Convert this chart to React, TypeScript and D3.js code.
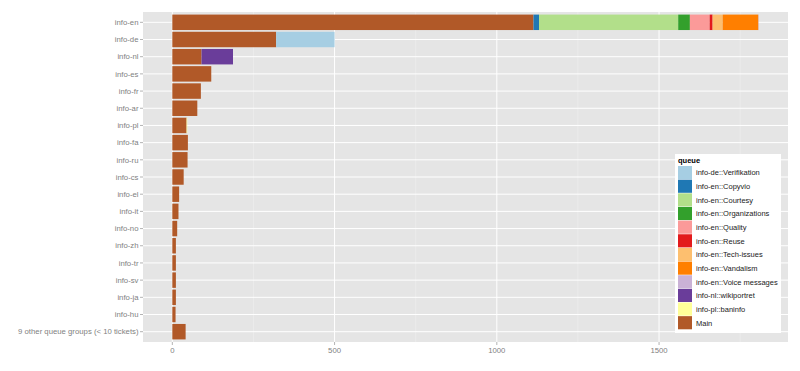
import { useEffect, useRef } from "react"
import * as d3 from "d3"

const categories = [
  "info-en", "info-de", "info-nl", "info-es", "info-fr", "info-ar", "info-pl", "info-fa",
  "info-ru", "info-cs", "info-el", "info-it", "info-no", "info-zh", "info-tr", "info-sv",
  "info-ja", "info-hu", "9 other queue groups (< 10 tickets)",
]

const queues = [
  "Main",
  "info-de::Verifikation",
  "info-en::Copyvio",
  "info-en::Courtesy",
  "info-en::Organizations",
  "info-en::Quality",
  "info-en::Reuse",
  "info-en::Tech-issues",
  "info-en::Vandalism",
  "info-en::Voice messages",
  "info-nl::wikiportret",
  "info-pl::baninfo",
]

const legendOrder = [
  "info-de::Verifikation",
  "info-en::Copyvio",
  "info-en::Courtesy",
  "info-en::Organizations",
  "info-en::Quality",
  "info-en::Reuse",
  "info-en::Tech-issues",
  "info-en::Vandalism",
  "info-en::Voice messages",
  "info-nl::wikiportret",
  "info-pl::baninfo",
  "Main",
]

const queueColors = [
  "#B15928", "#A6CEE3", "#1F78B4", "#B2DF8A", "#33A02C", "#FB9A99",
  "#E31A1C", "#FDBF6F", "#FF7F00", "#CAB2D6", "#6A3D9A", "#FFFF99",
]

// tickets per category, one array per queue (same order as categories)
const mainValues = [1113, 320, 90, 120, 88, 77, 44, 48, 47, 35, 21, 19, 15, 11, 11, 11, 11, 10, 41]
const verifikationValues = [0, 180, 0, 0, 0, 0, 0, 0, 0, 0, 0, 0, 0, 0, 0, 0, 0, 0, 0]
const copyvioValues = [17, 0, 0, 0, 0, 0, 0, 0, 0, 0, 0, 0, 0, 0, 0, 0, 0, 0, 0]
const courtesyValues = [429, 0, 0, 0, 0, 0, 0, 0, 0, 0, 0, 0, 0, 0, 0, 0, 0, 0, 0]
const organizationsValues = [36, 0, 0, 0, 0, 0, 0, 0, 0, 0, 0, 0, 0, 0, 0, 0, 0, 0, 0]
const qualityValues = [61, 0, 0, 0, 0, 0, 0, 0, 0, 0, 0, 0, 0, 0, 0, 0, 0, 0, 0]
const reuseValues = [9, 0, 0, 0, 0, 0, 0, 0, 0, 0, 0, 0, 0, 0, 0, 0, 0, 0, 0]
const techIssuesValues = [31, 0, 0, 0, 0, 0, 0, 0, 0, 0, 0, 0, 0, 0, 0, 0, 0, 0, 0]
const vandalismValues = [110, 0, 0, 0, 0, 0, 0, 0, 0, 0, 0, 0, 0, 0, 0, 0, 0, 0, 0]
const voiceValues = [1, 0, 0, 0, 0, 0, 0, 0, 0, 0, 0, 0, 0, 0, 0, 0, 0, 0, 0]
const wikiportretValues = [0, 0, 97, 0, 0, 0, 0, 0, 0, 0, 0, 0, 0, 0, 0, 0, 0, 0, 0]
const baninfoValues = [0, 0, 0, 0, 0, 0, 2, 0, 0, 0, 0, 0, 0, 0, 0, 0, 0, 0, 0]

const seriesValues = [
  mainValues, verifikationValues, copyvioValues, courtesyValues, organizationsValues,
  qualityValues, reuseValues, techIssuesValues, vandalismValues, voiceValues,
  wikiportretValues, baninfoValues,
]

const xTicks = [0, 500, 1000, 1500]
const xMinorTicks = [250, 750, 1250, 1750]

export default function App() {
  const svgRef = useRef<SVGSVGElement | null>(null)

  useEffect(() => {
    if (!svgRef.current) return
    const svg = d3.select(svgRef.current)
    svg.selectAll("*").remove()

    const width = 800
    const height = 371
    const panel = { left: 143, right: 788, top: 12, bottom: 342 }
    const font = "Liberation Sans, Arial, sans-serif"
    const grey = "#7f7f7f"

    const rows = categories.map((c, i) => {
      const row: Record<string, number | string> = { category: c }
      queues.forEach((q, j) => (row[q] = seriesValues[j][i]))
      return row
    })

    const stacked = d3.stack<Record<string, number | string>>().keys(queues)(rows as any)
    const maxTotal = d3.max(categories, (_, i) => d3.sum(seriesValues, (s) => s[i])) ?? 0
    const pad = maxTotal * 0.05

    const x = d3.scaleLinear().domain([-pad, maxTotal + pad]).range([panel.left, panel.right])
    const y = d3.scalePoint<string>().domain(categories).range([panel.top, panel.bottom]).padding(0.6)
    const barH = y.step() * 0.9
    const color = d3.scaleOrdinal<string, string>().domain(queues).range(queueColors)

    svg.attr("width", width).attr("height", height)

    svg.append("rect")
      .attr("x", panel.left).attr("y", panel.top)
      .attr("width", panel.right - panel.left).attr("height", panel.bottom - panel.top)
      .attr("fill", "#E5E5E5")

    svg.append("g").selectAll("line").data(xMinorTicks).join("line")
      .attr("x1", (d) => x(d)).attr("x2", (d) => x(d))
      .attr("y1", panel.top).attr("y2", panel.bottom)
      .attr("stroke", "#F2F2F2").attr("stroke-width", 0.5)

    svg.append("g").selectAll("line").data(xTicks).join("line")
      .attr("x1", (d) => x(d)).attr("x2", (d) => x(d))
      .attr("y1", panel.top).attr("y2", panel.bottom)
      .attr("stroke", "#ffffff").attr("stroke-width", 1)

    svg.append("g").selectAll("line").data(categories).join("line")
      .attr("x1", panel.left).attr("x2", panel.right)
      .attr("y1", (d) => y(d)!).attr("y2", (d) => y(d)!)
      .attr("stroke", "#ffffff").attr("stroke-width", 1)

    svg.append("g").selectAll("g").data(stacked).join("g")
      .attr("fill", (d) => color(d.key))
      .selectAll("rect")
      .data((d) => d.filter((s) => s[1] - s[0] > 0))
      .join("rect")
      .attr("x", (d) => x(d[0]))
      .attr("width", (d) => x(d[1]) - x(d[0]))
      .attr("y", (d) => y(d.data.category as string)! - barH / 2)
      .attr("height", barH)

    // y axis
    const yAxis = svg.append("g")
    yAxis.selectAll("line").data(categories).join("line")
      .attr("x1", panel.left - 3).attr("x2", panel.left)
      .attr("y1", (d) => y(d)!).attr("y2", (d) => y(d)!)
      .attr("stroke", grey).attr("stroke-width", 0.6)
    yAxis.selectAll("text").data(categories).join("text")
      .attr("x", panel.left - 4.5).attr("y", (d) => y(d)!)
      .attr("dy", "0.35em").attr("text-anchor", "end")
      .attr("font-family", font).attr("font-size", 7.75).attr("fill", grey)
      .text((d) => d)

    // x axis
    const xAxis = svg.append("g")
    xAxis.selectAll("line").data(xTicks).join("line")
      .attr("x1", (d) => x(d)).attr("x2", (d) => x(d))
      .attr("y1", panel.bottom).attr("y2", panel.bottom + 3)
      .attr("stroke", grey).attr("stroke-width", 0.6)
    xAxis.selectAll("text").data(xTicks).join("text")
      .attr("x", (d) => x(d)).attr("y", panel.bottom + 11)
      .attr("text-anchor", "middle")
      .attr("font-family", font).attr("font-size", 7.75).attr("fill", grey)
      .text((d) => String(d))

    // legend
    const lg = svg.append("g").attr("transform", "translate(675,154)")
    lg.append("rect").attr("width", 106).attr("height", 179).attr("fill", "#ffffff")
    lg.append("text").attr("x", 3).attr("y", 9)
      .attr("font-family", font).attr("font-size", 7.5).attr("font-weight", "bold")
      .text("queue")
    const keyH = 13.65
    const items = lg.selectAll("g.item").data(legendOrder).join("g")
      .attr("transform", (_, i) => `translate(3,${12 + i * keyH})`)
    items.append("rect").attr("width", 14).attr("height", keyH - 0.5)
      .attr("fill", (d) => color(d))
    items.append("text").attr("x", 18).attr("y", keyH / 2)
      .attr("dy", "0.35em")
      .attr("font-family", font).attr("font-size", 7.5).attr("fill", "#1a1a1a")
      .text((d) => d)
  }, [])

  return <svg ref={svgRef} style={{ position: "absolute", left: 0, top: 0 }} />
}
